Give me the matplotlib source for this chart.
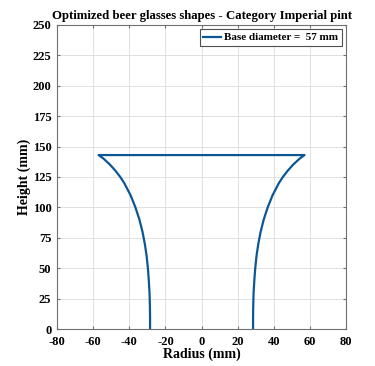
import numpy as np
import matplotlib.pyplot as plt

plt.rcParams.update({
    'font.family': 'Liberation Serif',
    'font.weight': 'bold',
    'font.size': 9,
    'axes.linewidth': 0.8,
    'axes.unicode_minus': False,
    'xtick.direction': 'in',
    'ytick.direction': 'in',
    'xtick.top': True,
    'ytick.right': True,
})

# glass profile (height in mm, radius in mm)
height = [0, 10, 20, 30, 40, 50, 60, 70, 80, 90, 100, 110, 120, 125, 130, 135, 140, 143]
radius = [28.5, 28.5, 28.6, 28.8, 29.2, 29.7, 30.4, 31.4, 32.7, 34.4, 36.6, 39.3, 42.8,
          45.0, 47.6, 50.6, 54.2, 57.0]
base_diameter = 57

h = np.array(height)
r = np.array(radius)
# left wall up, rim across, right wall down
xs = np.concatenate([-r, r[::-1]])
ys = np.concatenate([h, h[::-1]])

fig = plt.figure(figsize=(3.75, 3.66), dpi=100)
ax = fig.add_axes([0.152, 0.101, 0.771, 0.831])

ax.plot(xs, ys, color='#0b5796', linewidth=1.6,
        label=f'Base diameter =  {base_diameter} mm')

ax.set_xlim(-80, 80)
ax.set_ylim(0, 250)
ax.set_xticks(np.arange(-80, 81, 20))
ax.set_yticks(np.arange(0, 251, 25))
ax.grid(True, color='#dcdcdc', linewidth=0.6)
ax.set_axisbelow(True)
for s in ax.spines.values():
    s.set_color('#707070')
ax.tick_params(colors='#707070', labelcolor='black', length=2.5, labelsize=9)
ax.tick_params(axis='x', pad=5)
ax.tick_params(axis='y', pad=4)

ax.set_xlabel('Radius (mm)', fontsize=10, fontweight='bold', labelpad=0)
ax.set_ylabel('Height (mm)', fontsize=10, fontweight='bold', labelpad=1)
ax.set_title('Optimized beer glasses shapes - Category Imperial pint',
             fontsize=9.2, fontweight='bold', pad=4)

leg = ax.legend(loc='upper right', fontsize=8, handlelength=1.6, handletextpad=0.3,
                borderpad=0.3, borderaxespad=0.4, fancybox=False, framealpha=1)
leg.get_frame().set_edgecolor('#505050')
leg.get_frame().set_linewidth(0.8)

fig.savefig('out.png', dpi=100, facecolor='white')
